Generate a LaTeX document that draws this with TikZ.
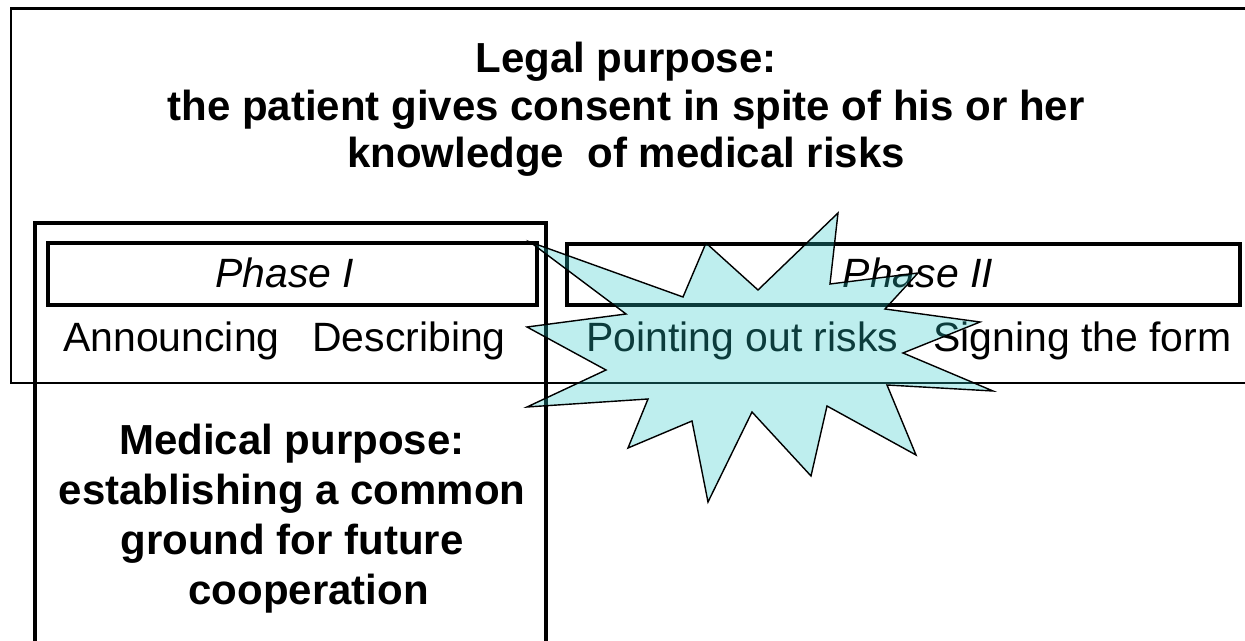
\documentclass[tikz,border=0pt]{standalone}
\definecolor{burstcyan}{RGB}{40, 200, 200}
\usepackage{fontspec}
\setmainfont{Liberation Sans}

\begin{document}
\begin{tikzpicture}[x=0.02cm, y=-0.02cm,
                    frame/.style={draw=black, line width=1.7pt},
                    boxframe/.style={draw=black, line width=2pt},
                    txt/.style={inner sep=0pt, font=\fontsize{23.3}{27.3}\selectfont},
                    headtxt/.style={inner sep=0pt, align=center, font=\fontsize{23.9}{27.3}\selectfont\bfseries}]
                    \useasboundingbox (0,0) rectangle (1245,641);
                    % Outer and medical frames
                    \draw[frame] (11,9) rectangle (1265,383);
                    \draw[boxframe] (35,223) rectangle (546,660);
                    \draw[boxframe, fill=white] (48,243) rectangle (537,305);
                    \draw[boxframe, fill=white] (567,244) rectangle (1240,305);

                    \node[headtxt, anchor=base] (legal) at (626,168) {Legal purpose:\\the patient gives consent in spite of his or her\\knowledge\ \ of medical risks};
                    \node[headtxt, anchor=base, font=\fontsize{23.9}{28.5}\selectfont\bfseries] (medical) at (292,605) {Medical purpose:\\establishing a common\\ground for future\\\hspace{0.8em}cooperation};

                    \node[txt, anchor=base] (phaseI) at (285,288) {\itshape Phase I};
                    \node[txt, anchor=base] (phaseII) at (918,288) {\itshape Phase II};
                    \node[txt, anchor=base west] (announce) at (63,352) {Announcing};
                    \node[txt, anchor=base west] (describe) at (312,352) {Describing};
                    \node[txt, anchor=base west] (risks) at (586,352) {Pointing out risks};
                    \node[txt, anchor=base west] (signing) at (933,352) {Signing the form};

                    % Starburst over the risks
                    \draw[fill=burstcyan, fill opacity=0.3, line width=0.8pt]
                      (530,242) -- (683,297) -- (706,243) -- (758,290) -- (838,213) -- (830,284)
                      -- (918,273) -- (885,309) -- (980,322) -- (903,353) -- (993,391) -- (887,385)
                      -- (916,455) -- (827,406) -- (811,476) -- (752,412) -- (708,502) -- (692,421)
                      -- (628,448) -- (648,399) -- (527,407) -- (606,370) -- (527,327) -- (626,314) -- cycle;
                \end{tikzpicture}
\end{document}
